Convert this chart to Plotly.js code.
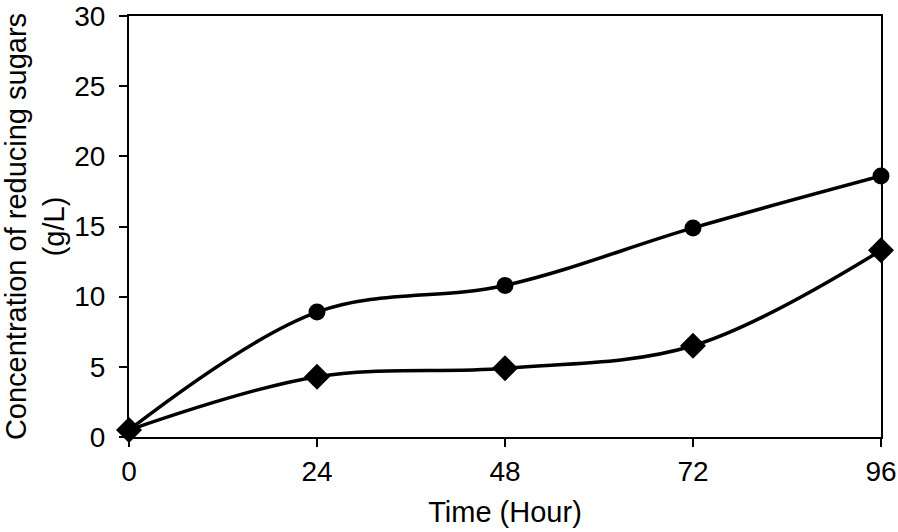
<!DOCTYPE html>
<html>
<head>
<meta charset="utf-8">
<script src="https://cdn.plot.ly/plotly-3.0.1.min.js"></script>
<style>
  html, body { margin: 0; padding: 0; background: #fff; }
  #plot { width: 898px; height: 532px; }
</style>
</head>
<body>
<div id="plot"></div>
<script>
// time points (hours) and reducing sugar concentrations (g/L)
let hours = [0, 24, 48, 72, 96];
let circleSeries = [0.5, 8.9, 10.8, 14.9, 18.6];
let diamondSeries = [0.5, 4.3, 4.9, 6.5, 13.3];
let xTicks = [0, 24, 48, 72, 96];
let yTicks = [0, 5, 10, 15, 20, 25, 30];

const font = { family: 'Liberation Sans, Arial, sans-serif', size: 28, color: '#000' };
const titleFont = { family: 'Liberation Sans, Arial, sans-serif', size: 29, color: '#000' };

const trace1 = {
  x: hours,
  y: circleSeries,
  type: 'scatter',
  mode: 'lines+markers',
  line: { color: '#000', width: 3.5, shape: 'spline', smoothing: 1 },
  marker: { symbol: 'circle', size: 17, color: '#000' },
  cliponaxis: false
};

const trace2 = {
  x: hours,
  y: diamondSeries,
  type: 'scatter',
  mode: 'lines+markers',
  line: { color: '#000', width: 3.5, shape: 'spline', smoothing: 1 },
  marker: { symbol: 'diamond', size: 20, color: '#000' },
  cliponaxis: false
};

const layout = {
  width: 898,
  height: 532,
  margin: { l: 129, r: 17, t: 16, b: 95 },
  paper_bgcolor: '#fff',
  plot_bgcolor: '#fff',
  font: font,
  showlegend: false,
  xaxis: {
    range: [0, 96],
    tickvals: xTicks,
    ticktext: xTicks.map(String),
    ticks: 'outside',
    ticklen: 8,
    tickwidth: 2,
    tickcolor: '#000',
    showline: true,
    linecolor: '#000',
    linewidth: 2,
    mirror: true,
    showgrid: false,
    zeroline: false,
    tickfont: font,
    ticklabelstandoff: 0,
    title: { text: 'Time (Hour)', font: titleFont, standoff: 16 }
  },
  yaxis: {
    range: [0, 30],
    tickvals: yTicks,
    ticktext: yTicks.map(String),
    ticks: 'outside',
    ticklen: 8,
    tickwidth: 2,
    tickcolor: '#000',
    showline: true,
    linecolor: '#000',
    linewidth: 2,
    mirror: true,
    showgrid: false,
    zeroline: false,
    tickfont: font,
    ticklabelstandoff: 8,
    title: { text: 'Concentration of reducing sugars<br>(g/L)', font: titleFont, standoff: 12 }
  }
};

Plotly.newPlot('plot', [trace1, trace2], layout, { displayModeBar: false, staticPlot: true });
</script>
</body>
</html>
